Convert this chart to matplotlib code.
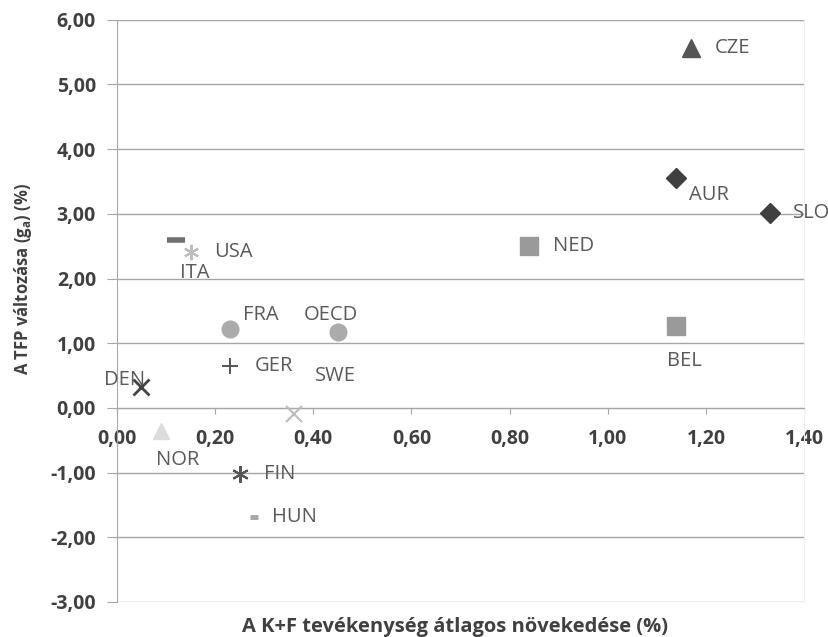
import matplotlib
matplotlib.use("Agg")
import matplotlib.pyplot as plt

plt.rcParams['font.family'] = ['Open Sans', 'DejaVu Sans']

# data
countries = ["CZE", "AUR", "SLO", "NED", "BEL", "ITA", "USA", "FRA", "OECD",
             "GER", "DEN", "SWE", "NOR", "FIN", "HUN"]
rd_growth = [1.17, 1.14, 1.33, 0.84, 1.14, 0.12, 0.15, 0.23, 0.45,
             0.23, 0.05, 0.36, 0.09, 0.25, 0.28]
tfp_change = [5.56, 3.56, 3.01, 2.50, 1.27, 2.60, 2.41, 1.22, 1.18,
              0.65, 0.33, -0.09, -0.36, -1.02, -1.68]

# marker style per country: (marker, size, colour, edge width)
styles = {
    "CZE": ("^", 13, "#555555", 1),
    "AUR": ("D", 10, "#404040", 1),
    "SLO": ("D", 10, "#404040", 1),
    "NED": ("s", 13, "#9a9a9a", 1),
    "BEL": ("s", 13, "#9a9a9a", 1),
    "ITA": ("_", 13, "#707070", 4),
    "USA": ((6, 2, 0), 11, "#bdbdbd", 1.5),
    "FRA": ("o", 12, "#ababab", 1),
    "OECD": ("o", 12, "#ababab", 1),
    "GER": ("+", 11, "#555555", 1.4),
    "DEN": ("x", 11, "#444444", 2),
    "SWE": ("x", 12, "#bdbdbd", 1.5),
    "NOR": ("^", 12, "#dcdcdc", 1),
    "FIN": ((6, 2, 0), 12, "#555555", 1.5),
    "HUN": ("_", 6, "#a8a8a8", 3.5),
}

# label offsets in pixels (dx, dy, ha)
offsets = {
    "CZE": (24, 0, "left"), "AUR": (13, -17, "left"), "SLO": (23, 0, "left"),
    "NED": (24, 0, "left"), "BEL": (-9, -35, "left"), "ITA": (4, -33, "left"),
    "USA": (24, 0, "left"), "FRA": (13, 14, "left"), "OECD": (-7, 17, "center"),
    "GER": (25, 0, "left"), "DEN": (-17, 7, "center"), "SWE": (21, 38, "left"),
    "NOR": (17, -29, "center"), "FIN": (24, 0, "left"), "HUN": (18, 0, "left"),
}

fig = plt.figure(figsize=(8.29, 6.37), dpi=100)
ax = fig.add_axes([0.141, 0.055, 0.829, 0.914])

for c, x, y in zip(countries, rd_growth, tfp_change):
    m, ms, col, mew = styles[c]
    ax.plot(x, y, linestyle="none", marker=m, markersize=ms, color=col,
            markeredgewidth=mew, zorder=3, clip_on=False)
    dx, dy, ha = offsets[c]
    ax.annotate(c, (x, y), xytext=(dx * 0.72, dy * 0.72), textcoords="offset points",
                ha=ha, va="center", fontsize=14.5, color="#595959", zorder=4)

ax.set_xlim(0, 1.4)
ax.set_ylim(-3, 6)
ax.set_xticks([0, 0.2, 0.4, 0.6, 0.8, 1.0, 1.2, 1.4])
ax.set_yticks(range(-3, 7))
ax.set_xticklabels([f"{v:.2f}".replace(".", ",") for v in ax.get_xticks()])
ax.set_yticklabels([f"{v:.2f}".replace(".", ",") for v in ax.get_yticks()])

ax.grid(axis="y", color="#a6a6a6", linewidth=1)
ax.set_axisbelow(True)
ax.spines["bottom"].set_position(("data", 0))
ax.spines["bottom"].set_color("#a6a6a6")
ax.spines["left"].set_color("#a6a6a6")
ax.spines["top"].set_visible(False)
ax.spines["right"].set_color("#f0f0f0")

ax.tick_params(axis="y", length=7, color="#a6a6a6", pad=8,
               labelsize=14, labelcolor="#404040")
ax.tick_params(axis="x", length=4, color="#a6a6a6", pad=11,
               labelsize=14, labelcolor="#404040")
for lab in ax.get_xticklabels() + ax.get_yticklabels():
    lab.set_fontweight("bold")

fig.text(0.549, 1 - 627 / 637, "A K+F tevékenység átlagos növekedése (%)",
         ha="center", va="center", fontsize=14.5, fontweight="bold",
         color="#404040")
ax.set_ylabel(r"A TFP változása (g$_\mathregular{a}$) (%)", fontsize=12,
              fontweight="bold", color="#404040")
ax.yaxis.set_label_coords(-0.12, 0.555)

plt.savefig("out.png", dpi=100)
